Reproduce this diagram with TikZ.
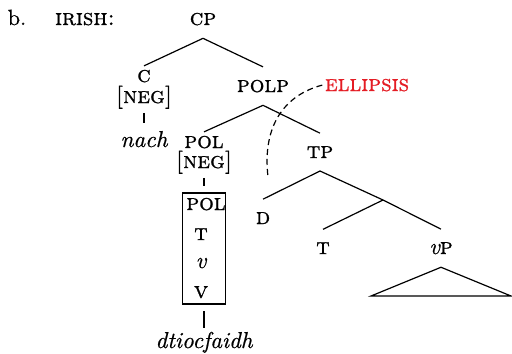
\documentclass[tikz,border=0pt]{standalone}
\usepackage{amsmath}
\usepackage{fontspec}
\usepackage{tikz}
\usepackage{xcolor}
\newfontfamily\catfont{lmromancaps10-regular.otf}[FakeBold=0.9]
\newfontfamily\wordfont{lmroman10-italic.otf}[FakeBold=0.6]
\newfontfamily\plainfont{lmroman10-regular.otf}[FakeBold=0.6]
\definecolor{ellred}{RGB}{228,28,36}

\begin{document}
\begin{tikzpicture}[
            x=0.5pt, y=-0.5pt,
            line width=0.6pt,
            every node/.style={font=\fontsize{11}{13}\plainfont, inner sep=1pt, outer ysep=1pt, anchor=base},
            cat/.style={font=\fontsize{11.5}{13}\catfont},
            far/.style={outer ysep=5.5pt},
            word/.style={font=\fontsize{11.5}{13}\wordfont},
        ]
            \useasboundingbox (0,0) rectangle (512,353);
            \node (ex) at (17,25) {b.};
            \node[cat] (lang) at (85,25) {irish:};
            \node[cat, far] (cp) at (203,25) {cp};
            \node[cat] (c) at (144,82) {c};
            \node[cat] (cneg) at (144,103) {[neg]};
            \node[word, outer ysep=3pt] (nach) at (144,147) {nach};
            \node[cat, far] (polp) at (263,92) {polp};
            \node[cat, text=ellred] (ellipsis) at (367,91) {ellipsis};
            \node[cat] (pol) at (204,148) {pol};
            \node[cat] (polneg) at (204,168) {[neg]};
            \node[draw, minimum width=21.5pt, minimum height=55.5pt, outer sep=3.5pt, anchor=center] (box) at (204,248.5) {};
            \node[cat] (bpol) at (206,210) {pol};
            \node[cat] (bt) at (201,240) {t};
            \node[word] (bv) at (201,268) {v};
            \node[cat] (bbigv) at (201,298) {v};
            \node[word] (verb) at (204,348) {dtiocfaidh};
            \node[cat, far] (tp) at (320,158) {tp};
            \node[cat, far] (d) at (263,224) {d};
            \node[cat, far] (t) at (323,254) {t};
            \node[cat, far] (vp) at (441,254) {{\wordfont v}p};
            \coordinate (tbar) at (383,200);
            \coordinate (tri-l) at (371,296);
            \coordinate (tri-r) at (511,296);
            \coordinate (gap) at (268,177);

            \draw (c.north) -- (cp.south) -- (polp.north);
            \draw (cneg.south) -- (nach.north);
            \draw (pol.north) -- (polp.south) -- (tp.north);
            \draw (polneg.south) -- (box.north);
            \draw (box.south) -- (verb.north);
            \draw (d.north) -- (tp.south) -- (tbar) -- (vp.north);
            \draw (tbar) -- (t.north);
            \draw (vp.south) -- (tri-l) -- (tri-r) -- cycle;
            \draw[dashed, dash pattern=on 3pt off 2pt] (ellipsis.west) .. controls (285,95) and (262,125) .. (gap);
        \end{tikzpicture}
\end{document}
